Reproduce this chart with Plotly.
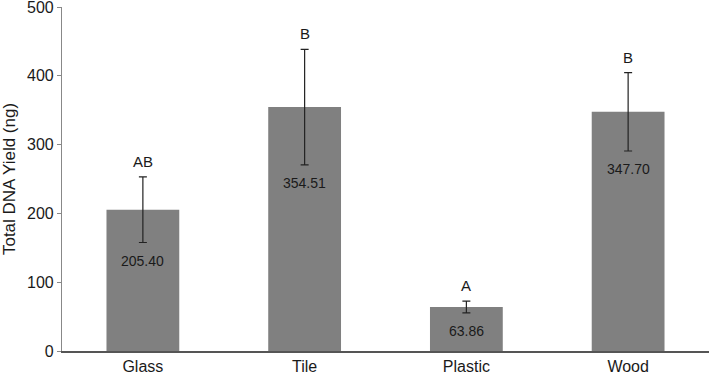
import plotly.graph_objects as go

categories = ["Glass", "Tile", "Plastic", "Wood"]
means = [205.40, 354.51, 63.86, 347.70]
errors = [47.7, 84.0, 8.5, 57.0]
letters = ["AB", "B", "A", "B"]
value_labels = ["205.40", "354.51", "63.86", "347.70"]
y_ticks = [0, 100, 200, 300, 400, 500]

FONT = "Liberation Sans, Arial, sans-serif"

fig = go.Figure()
fig.add_trace(go.Bar(
    x=categories, y=means,
    marker=dict(color="#808080", line=dict(width=0)),
    width=0.45,
    error_y=dict(type="data", array=errors, visible=True,
                 color="#222222", thickness=1.2, width=4),
    hoverinfo="skip",
))

for c, m, e, lt, vl in zip(categories, means, errors, letters, value_labels):
    fig.add_annotation(x=c, y=m + e, text=lt, showarrow=False,
                       yanchor="bottom", yshift=5,
                       font=dict(family=FONT, size=15, color="#1a1a1a"))
    fig.add_annotation(x=c, y=m - e, text=vl, showarrow=False,
                       yanchor="top", yshift=-8,
                       font=dict(family=FONT, size=14, color="#1a1a1a"))

fig.update_layout(
    width=709, height=372,
    margin=dict(l=62, r=0, t=7, b=21),
    plot_bgcolor="white", paper_bgcolor="white",
    showlegend=False,
    font=dict(family=FONT, size=14, color="#1a1a1a"),
    bargap=0.55,
)
fig.update_xaxes(
    automargin=False,
    showline=True, linecolor="#555555", linewidth=1.5,
    ticks="", ticklen=0, showgrid=False, zeroline=False,
    ticklabeloverflow="allow",
    tickfont=dict(family=FONT, size=16, color="#1a1a1a"),
)
fig.update_yaxes(
    automargin=False,
    range=[0, 500], tickvals=y_ticks,
    showline=True, linecolor="#888888", linewidth=1.2,
    ticks="outside", ticklen=4, tickcolor="#888888",
    showgrid=False, zeroline=False,
    ticklabeloverflow="allow",
    tickfont=dict(family=FONT, size=16, color="#1a1a1a"),
    title=dict(text="Total DNA Yield (ng)", standoff=14,
               font=dict(family=FONT, size=17, color="#1a1a1a")),
)

fig.write_html("out.html", config={"displayModeBar": False})

# remove the browser's default page margin so the figure fills the window
with open("out.html", encoding="utf-8") as f:
    html = f.read()
html = html.replace("<head>", "<head><style>html,body{margin:0;padding:0;overflow:hidden;}</style>", 1)
with open("out.html", "w", encoding="utf-8") as f:
    f.write(html)
